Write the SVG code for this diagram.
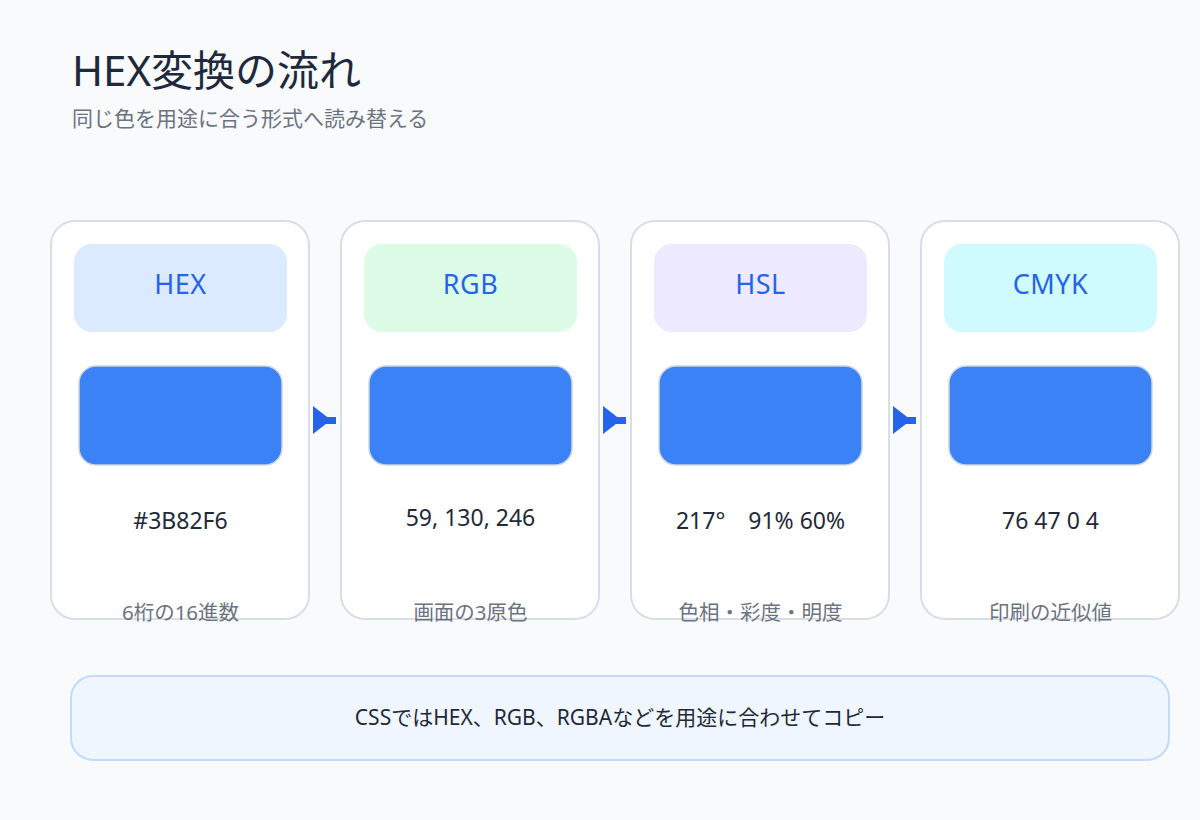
<svg xmlns="http://www.w3.org/2000/svg" width="1200" height="820" viewBox="0 0 1200 820">
<style>
text{font-family:"Noto Sans","Noto Sans CJK JP",sans-serif}
.card{fill:#ffffff;stroke:#d8dee8;stroke-width:2}
.lab{stroke:none}
.labt{font-size:27px;fill:#2563eb;text-anchor:middle;letter-spacing:0.5px}
.sw{fill:#3b82f6;stroke:#cbd5e1;stroke-width:1.5}
.val{font-size:23px;fill:#1f2937;text-anchor:middle}
.cap{font-size:20.5px;fill:#6b7280;text-anchor:middle}
.arr{fill:#2563eb}
</style>
<rect width="1200" height="820" fill="#f8fafc"/>
<text x="72" y="86" font-size="42" fill="#1e293b">HEX変換の流れ</text>
<text x="72" y="126" font-size="21" fill="#6b7280">同じ色を用途に合う形式へ読み替える</text>
<g id="connectors">
<rect class="arr" x="313" y="417" width="23" height="7"/>
<polygon class="arr" points="313,406 331,420 313,434"/>
<rect class="arr" x="603" y="417" width="23" height="7"/>
<polygon class="arr" points="603,406 621,420 603,434"/>
<rect class="arr" x="893" y="417" width="23" height="7"/>
<polygon class="arr" points="893,406 911,420 893,434"/>
</g>
<g id="node-hex">
<rect class="card" x="51" y="221" width="258" height="398" rx="24"/>
<rect class="lab" x="74" y="244" width="213" height="88" rx="18" fill="#dbeafe"/>
<text class="labt" x="180.5" y="294">HEX</text>
<rect class="sw" x="79" y="366" width="203" height="99" rx="17"/>
<text class="val" x="180.5" y="529">#3B82F6</text>
<text class="cap" x="180.5" y="620">6桁の16進数</text>
</g>
<g id="node-rgb">
<rect class="card" x="341" y="221" width="258" height="398" rx="24"/>
<rect class="lab" x="364" y="244" width="213" height="88" rx="18" fill="#dcfce7"/>
<text class="labt" x="470.5" y="294">RGB</text>
<rect class="sw" x="369" y="366" width="203" height="99" rx="17"/>
<text class="val" x="470.5" y="526">59, 130, 246</text>
<text class="cap" x="470.5" y="620">画面の3原色</text>
</g>
<g id="node-hsl">
<rect class="card" x="631" y="221" width="258" height="398" rx="24"/>
<rect class="lab" x="654" y="244" width="213" height="88" rx="18" fill="#ede9fe"/>
<text class="labt" x="760.5" y="294">HSL</text>
<rect class="sw" x="659" y="366" width="203" height="99" rx="17"/>
<text class="val" x="760.5" y="529">217°　91% 60%</text>
<text class="cap" x="760.5" y="620">色相・彩度・明度</text>
</g>
<g id="node-cmyk">
<rect class="card" x="921" y="221" width="258" height="398" rx="24"/>
<rect class="lab" x="944" y="244" width="213" height="88" rx="18" fill="#cffafe"/>
<text class="labt" x="1050.5" y="294">CMYK</text>
<rect class="sw" x="949" y="366" width="203" height="99" rx="17"/>
<text class="val" x="1050.5" y="529">76 47 0 4</text>
<text class="cap" x="1050.5" y="620">印刷の近似値</text>
</g>
<g id="note">
<rect x="71" y="676" width="1098" height="84" rx="22" fill="#eff6ff" stroke="#bfdbfe" stroke-width="2"/>
<text x="620" y="725" font-size="21" fill="#1f2937" text-anchor="middle">CSSではHEX、RGB、RGBAなどを用途に合わせてコピー</text>
</g>
</svg>
